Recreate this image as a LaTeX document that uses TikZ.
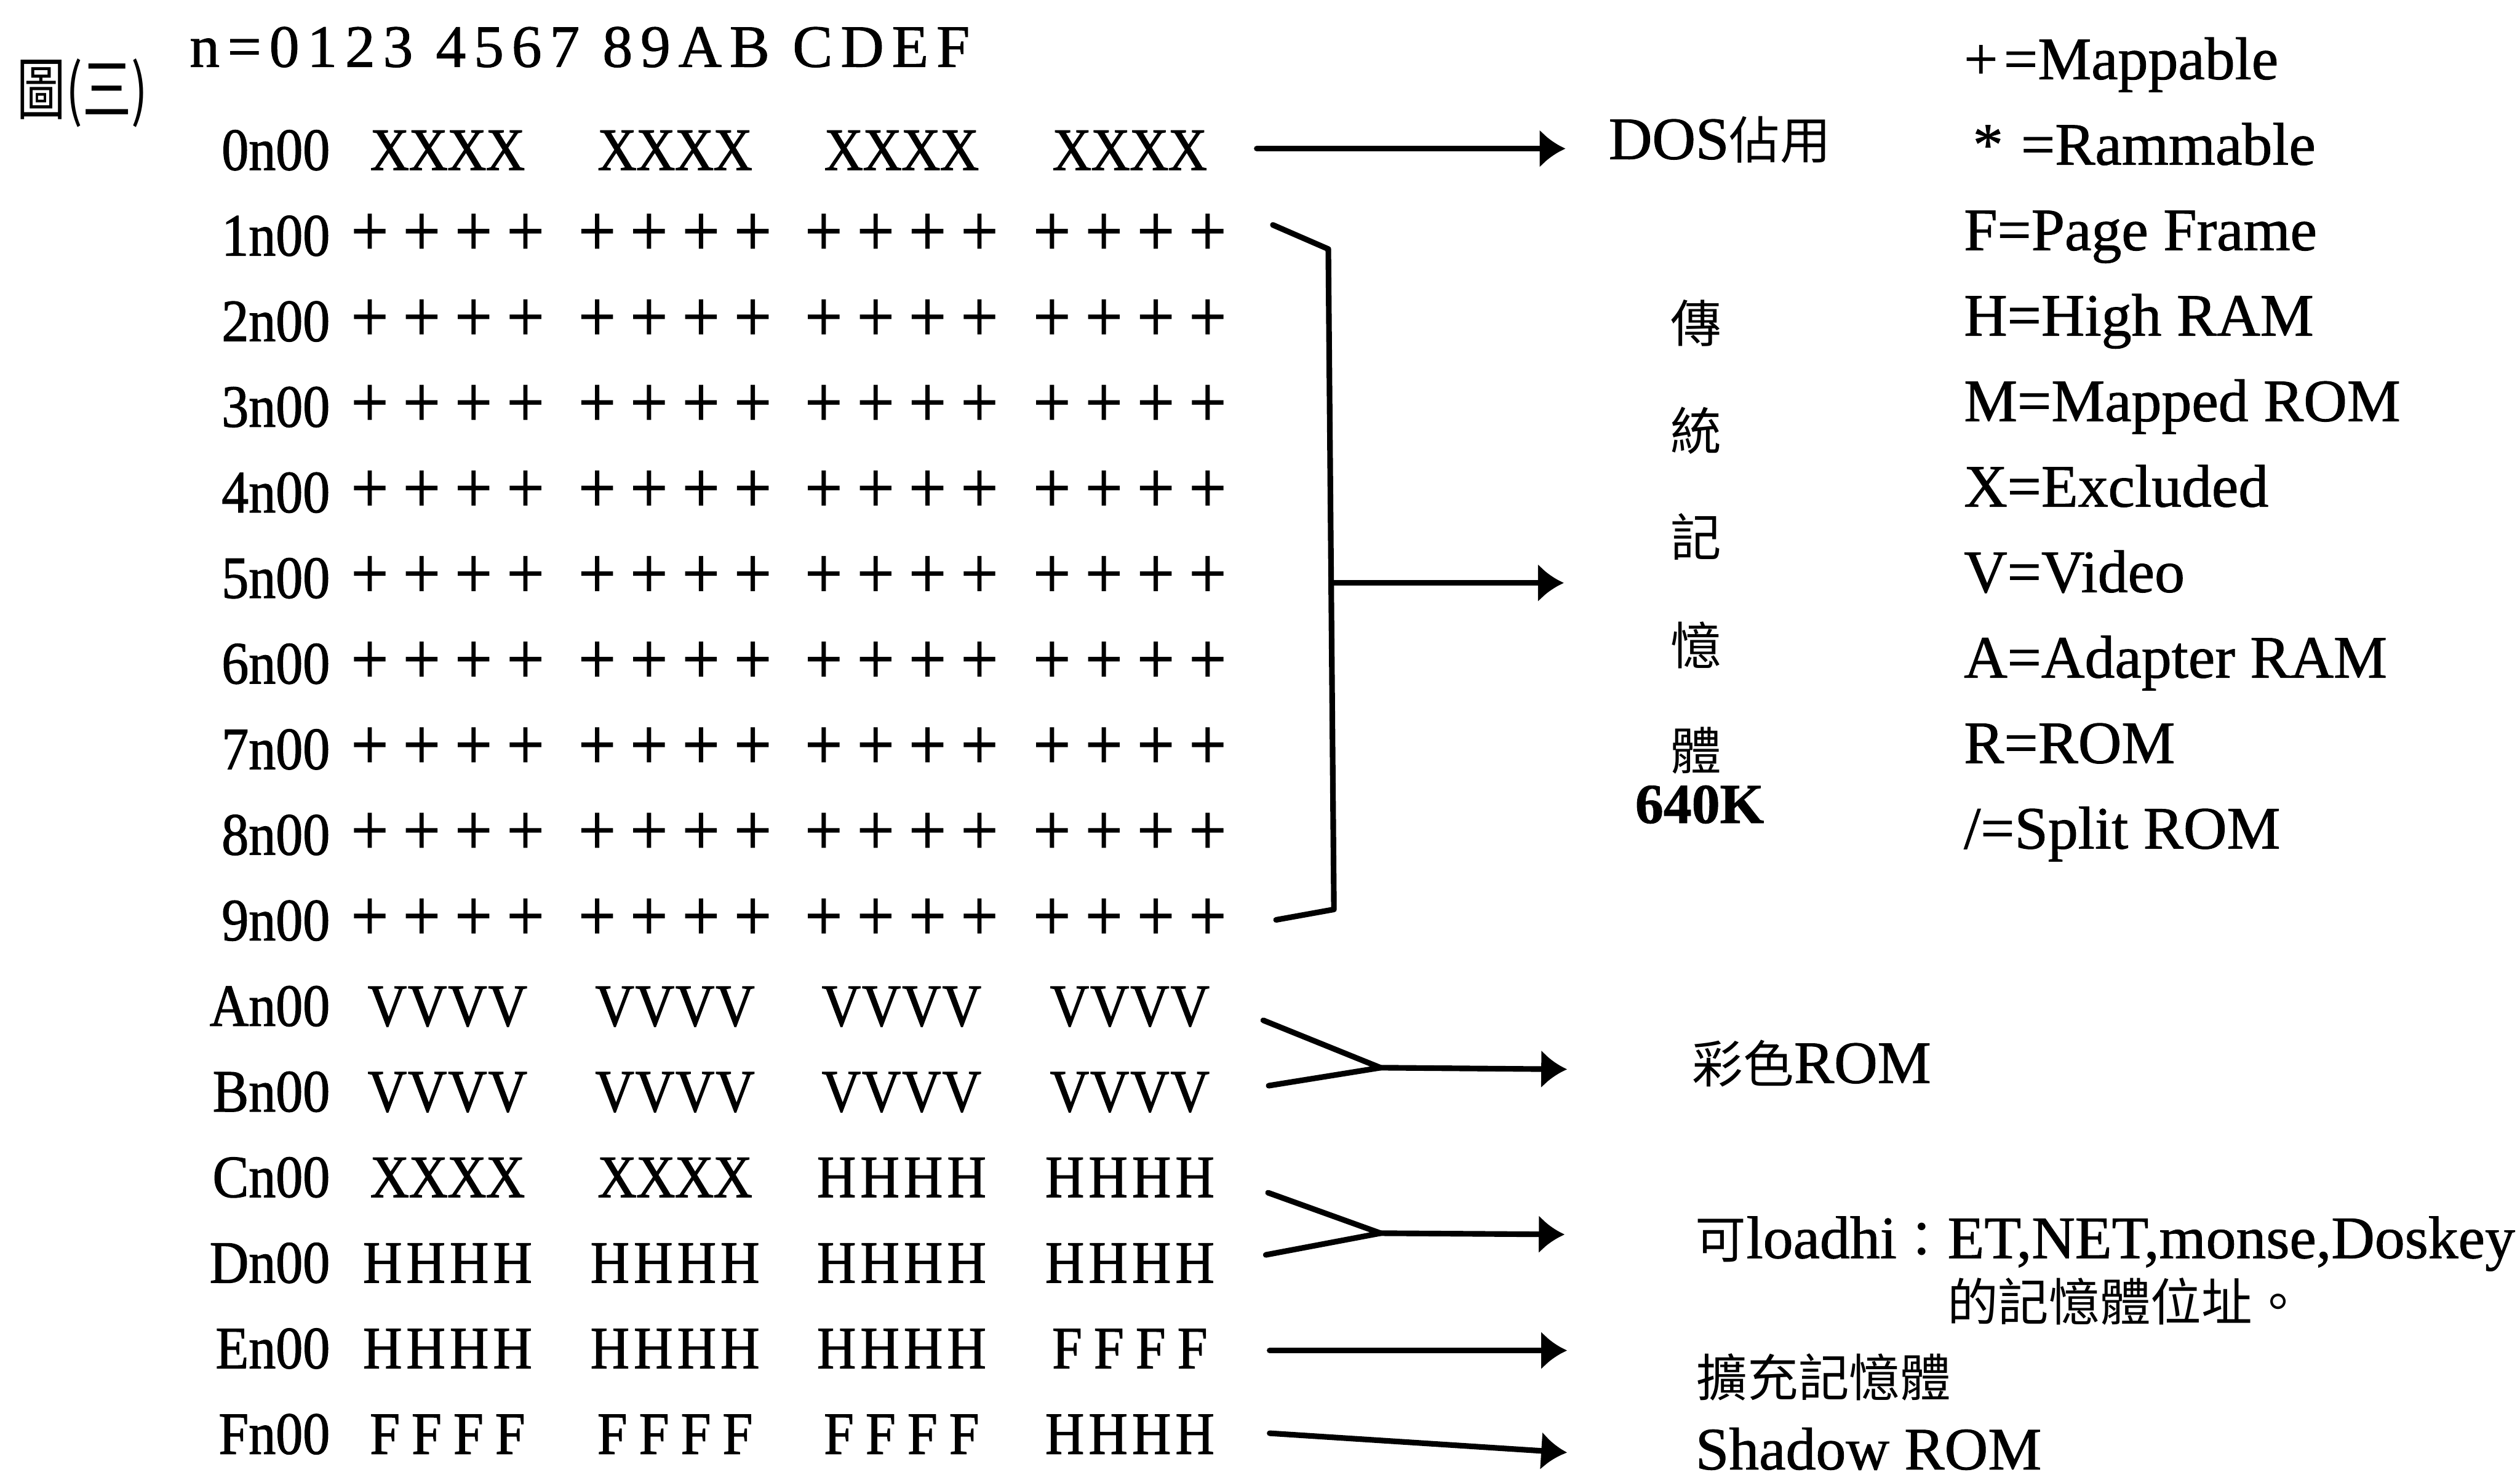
\documentclass[tikz,border=0pt]{standalone}
\usepackage{fontspec}
\setmainfont{Liberation Serif}[FakeBold=1]
\newfontfamily\cjk{Noto Sans CJK TC}
\newfontfamily\cjknarrow{Noto Sans CJK TC}[FakeStretch=0.72]
\newfontfamily\gridf{Liberation Serif}[FakeStretch=0.9,FakeBold=1.2]
\usetikzlibrary{arrows.meta}
\def\pwX{2.4mm}\def\pwV{2.5mm}\def\pwH{2.7mm}\def\pwF{2.6mm}
\newcommand\cellc[1]{\makebox[\csname pw#1\endcsname]{#1}}
\newcommand\cellq[1]{\cellc{#1}\cellc{#1}\cellc{#1}\cellc{#1}}
\newcommand\plusq{\makebox[3.23mm]{+}\makebox[3.23mm]{+}\makebox[3.23mm]{+}\makebox[3.23mm]{+}}
\newcommand\cjkc{\cjk\fontsize{9pt}{10pt}\selectfont}
\begin{document}
\begin{tikzpicture}[x=0.1mm,y=-0.1mm,
  txt/.style={inner sep=0pt, outer sep=0pt, font=\fontsize{10.65pt}{12pt}\selectfont},
  lbl/.style={inner sep=0pt, anchor=base east, font=\gridf\fontsize{10.65pt}{12pt}\selectfont},
  grp/.style={inner sep=0pt, anchor=base, font=\gridf\fontsize{10.65pt}{12pt}\selectfont},
  plusgrp/.style={inner sep=0pt, anchor=base, font=\gridf\fontsize{13pt}{14pt}\selectfont},
  leg/.style={txt, anchor=base west},
  cj/.style={inner sep=0pt, font=\cjkc},
  conn/.style={line width=0.35mm, line join=round, line cap=round},
  arr/.style={conn, -{Latex[length=1.6mm,width=2.4mm]}}]
\useasboundingbox (0,0) rectangle (1568,918);

% title and header
\node[inner sep=0pt, anchor=west, font=\cjknarrow\fontsize{12pt}{13pt}\selectfont] (title) at (10,58) {圖(三)};
\node[txt, anchor=base west] (head) at (118,41.6) {\addfontfeature{LetterSpace=13}n=0123 4567 89AB CDEF};

% plus rows
\foreach \k in {1,...,9}{
  \pgfmathsetmacro\yb{94.3+53.27*\k+11.5}
  \node[lbl] (r\k) at (206,\yb) {\k n00};
  \foreach \g/\xc in {1/278.5,2/420,3/561,4/703}
    \node[plusgrp] (g\k-\g) at (\xc,\yb) {\plusq};
}
% letter rows
\foreach \k/\lab/\ga/\gb/\gc/\gd in {0/0n00/X/X/X/X, 10/An00/V/V/V/V, 11/Bn00/V/V/V/V, 12/Cn00/X/X/H/H, 13/Dn00/H/H/H/H, 14/En00/H/H/H/F, 15/Fn00/F/F/F/H}{
  \pgfmathsetmacro\yb{94.3+53.27*\k+11.5}
  \node[lbl] (r\k) at (206,\yb) {\lab};
  \node[grp] (g\k-1) at (278.5,\yb) {\cellq\ga};
  \node[grp] (g\k-2) at (420,\yb) {\cellq\gb};
  \node[grp] (g\k-3) at (561,\yb) {\cellq\gc};
  \node[grp] (g\k-4) at (703,\yb) {\cellq\gd};
}

% legend
\foreach \k/\t in {0/{+\kern0.1em=Mappable}, 1/{\kern0.15em*\kern0.3em=Rammable}, 2/{F=Page Frame}, 3/{H=High RAM}, 4/{M=Mapped ROM}, 5/{X=Excluded}, 6/{V=Video}, 7/{A=Adapter RAM}, 8/{R=ROM}, 9/{/=Split ROM}}
  \node[leg] (l\k) at (1222,{49.3+53.2*\k}) {\t};

% right-hand texts
\node[txt, anchor=base west] (dos) at (1001,99) {DOS{\cjkc 佔用}};
\foreach \i/\ch/\yy in {1/傳/201,2/統/268,3/記/334,4/憶/401.6,5/體/467}
  \node[cj] (v\i) at (1055.5,\yy) {\ch};
\node[inner sep=0pt, font=\bfseries\fontsize{10pt}{12pt}\selectfont] (k640) at (1057.5,500.7) {640K};
\node[txt, anchor=base west] (color) at (1053,674) {{\cjkc 彩色}ROM};
\node[txt, anchor=base west] (load1) at (1055,783) {{\cjkc 可}loadhi{\cjkc ：}ET,NET,monse,Doskey};
\node[cj, anchor=base west] (load2) at (1211,822) {的記憶體位址。};
\node[cj, anchor=base west] (ext) at (1055,869) {擴充記憶體};
\node[txt, anchor=base west] (shadow) at (1055,914.5) {Shadow ROM};

% connectors
\coordinate (a0s) at (782,92.5); \coordinate (a0e) at (974,92.5);
\draw[arr] (a0s) -- (a0e);

\coordinate (bt) at (792,140); \coordinate (btc) at (826.5,155);
\coordinate (bbc) at (830,566); \coordinate (bb) at (794,572.5);
\coordinate (bm) at (828.5,362.8); \coordinate (bme) at (973,362.8);
\draw[conn] (bt) -- (btc) -- (bbc) -- (bb);
\draw[arr] (bm) -- (bme);

\coordinate (v1a) at (786,635); \coordinate (v1j) at (859,664.5); \coordinate (v1b) at (789.4,675.7);
\coordinate (v1e) at (975,665.5);
\draw[conn] (v1a) -- (v1j) -- (v1b);
\draw[arr] (v1j) -- (v1e);

\coordinate (v2a) at (789,742.3); \coordinate (v2j) at (859,767.5); \coordinate (v2b) at (787.6,781);
\coordinate (v2e) at (973.5,768.3);
\draw[conn] (v2a) -- (v2j) -- (v2b);
\draw[arr] (v2j) -- (v2e);

\coordinate (ens) at (790,840.5); \coordinate (ene) at (975,840.5);
\draw[arr] (ens) -- (ene);

\coordinate (fns) at (790,892); \coordinate (fne) at (975,904);
\draw[arr] (fns) -- (fne);
\end{tikzpicture}
\end{document}
